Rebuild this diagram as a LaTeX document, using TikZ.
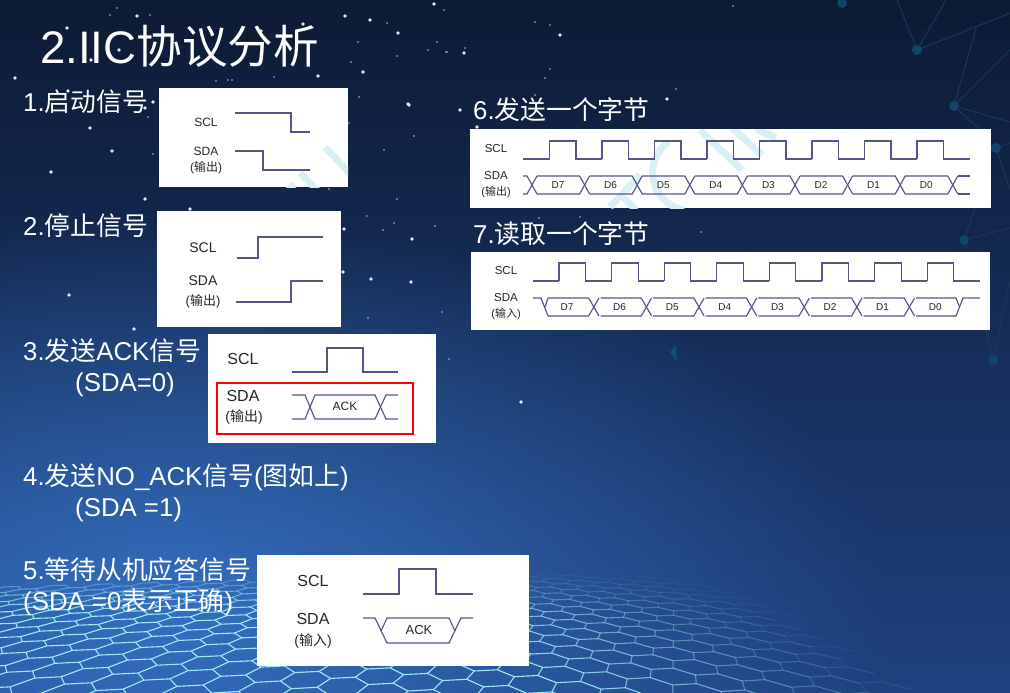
\documentclass[tikz,border=0pt]{standalone}
\usepackage{fontspec}
\setmainfont{Liberation Sans}
\newfontfamily\cjk{Noto Sans CJK SC}
\usetikzlibrary{fadings}

\definecolor{bgtop}{HTML}{0D1A34}
\definecolor{bgmid}{HTML}{162B57}
\definecolor{bgbot}{HTML}{1F417F}
\definecolor{bgglow}{HTML}{3B7BD2}
\definecolor{hexline}{HTML}{9BECF4}
\definecolor{netline}{HTML}{1A3757}
\definecolor{netdot}{HTML}{124468}
\definecolor{wavecol}{HTML}{55558A}
\definecolor{markcol}{HTML}{D9EFF5}
\tikzfading[name=glowfade, inner color=transparent!20, outer color=transparent!100]

\tikzset{
  heading/.style={anchor=base west, text=white, inner sep=0pt, font=\fontsize{25.8}{26}\selectfont},
  sigtext/.style={text=black!85, inner sep=0pt, align=center},
  wave/.style={draw=wavecol, line width=1.15pt, line join=miter},
  panel/.style={fill=white},
  stcmark/.style={draw=markcol, line width=7pt}
}

\begin{document}
\begin{tikzpicture}[x=1pt, y=-1pt,
    declare function={
      gx(\u,\v)=\u*cos(8)-\v*sin(8);
      gz(\u,\v)=\u*sin(8)+\v*cos(8)-60;
      sc(\z)=607/(607+\z);
      px(\u,\v)=430+gx(\u,\v)*sc(gz(\u,\v));
      py(\u,\v)=450+243*sc(gz(\u,\v));
    }]
  \useasboundingbox (0,0) rectangle (1010,693);

  % background
  \shade[top color=bgtop, middle color=bgmid, bottom color=bgbot] (0,0) rectangle (1010,693);
  \begin{scope}
    \clip (0,0) rectangle (1010,693);
    \fill[bgglow, path fading=glowfade] (170,610) ellipse [x radius=720, y radius=400];
    % hexagon floor
    \foreach \i in {-22,...,20} {
      \foreach \j in {-1,...,13} {
        \pgfmathsetmacro\cu{39*\i}
        \pgfmathsetmacro\cv{45*\j+22.5*mod(abs(\i),2)}
        \pgfmathsetmacro\cx{px(\cu,\cv)}
        \pgfmathsetmacro\cy{py(\cu,\cv)}
        \pgfmathsetmacro\op{min(1,max(0,(\cy-572)/45))*min(1,max(0,(765+(\cy-600)*1.77-\cx)/380))}
        \ifdim\op pt>0.02pt
          \draw[hexline, line width=1.1pt, opacity=\op]
            ({px(\cu+26,\cv)},{py(\cu+26,\cv)}) -- ({px(\cu+13,\cv+22.5)},{py(\cu+13,\cv+22.5)})
            -- ({px(\cu-13,\cv+22.5)},{py(\cu-13,\cv+22.5)}) -- ({px(\cu-26,\cv)},{py(\cu-26,\cv)});
        \fi
      }
    }
  \end{scope}

  % network in the right corner
  \foreach \ax/\ay/\bx/\by in {917/50/897/0, 917/50/946/0, 917/50/1010/13, 954/106/976/28,
      954/106/1010/50, 954/106/1010/122, 954/106/980/130, 996/148/1010/143, 996/148/1010/190,
      964/240/975/208, 964/240/1010/228, 964/240/970/255, 993/360/985/320, 993/360/1010/280}
    \draw[netline, line width=1pt] (\ax,\ay) -- (\bx,\by);
  \foreach \ax/\ay in {842/3, 917/50, 954/106, 996/148, 964/240, 993/360}
    \fill[netdot] (\ax,\ay) circle (5);
  \fill[netdot!80!teal] (670,352) -- (676,345) -- (677,362) -- cycle;

  % stars
  \foreach \sx/\sy in {67/28, 137/16, 91/60, 119/50, 15/78, 68/91, 153/102, 145/108, 90/128, 112/151,
      51/172, 145/199, 190/209, 69/295, 134/329, 318/76, 303/24, 261/31, 345/16, 370/20, 398/33,
      363/72, 409/105, 434/4, 344/229, 412/239, 343/272, 371/279, 411/282, 560/35, 464/53, 408/104,
      460/110, 667/99, 477/127, 521/402}
    \fill[white!90!blue] (\sx,\sy) circle (1.9);
  \foreach \sx/\sy in {110/15, 117/8, 150/15, 216/81, 228/80, 232/80, 274/77, 387/23, 358/42, 351/62,
      397/56, 428/50, 437/42, 447/52, 359/97, 349/123, 414/136, 384/150, 153/154, 329/189, 397/199,
      367/216, 383/230, 394/223, 435/226, 368/318, 442/312, 148/117, 444/10, 535/22, 550/25, 465/48,
      446/52, 550/69, 545/78, 535/95, 676/89, 733/6, 449/359, 701/232, 539/218, 580/217}
    \fill[white!70!blue] (\sx,\sy) circle (.9);

  % title and headings
  \node[heading, font=\fontsize{45.6}{46}\selectfont] (title) at (40,64) {2.IIC{\cjk 协议分析}};
  \node[heading] (startlab) at (23,111) {1.{\cjk 启动信号}};
  \node[heading] (stoplab) at (23,235) {2.{\cjk 停止信号}};
  \node[heading] (acklab) at (23,360) {3.{\cjk 发送}ACK{\cjk 信号}};
  \node[heading] (ackval) at (75,391) {(SDA=0)};
  \node[heading] (nacklab) at (23,485) {4.{\cjk 发送}NO\_ACK{\cjk 信号}({\cjk 图如上})};
  \node[heading] (nackval) at (75,516) {(SDA =1)};
  \node[heading] (waitlab) at (23,579) {5.{\cjk 等待从机应答信号}};
  \node[heading] (waitval) at (23,610) {(SDA =0{\cjk 表示正确})};
  \node[heading] (sendlab) at (473,119) {6.{\cjk 发送一个字节}};
  \node[heading] (readlab) at (473,243) {7.{\cjk 读取一个字节}};

  % panel 1
  \fill[panel] (159,88) rectangle (348,187);
  \begin{scope}
    \clip (159,88) rectangle (348,187);
    \draw[stcmark] (325,147) -- (352,176);
    \draw[stcmark] (300,173) -- (322,195);
    \draw[stcmark] (287,192) -- (294,184);
  \end{scope}
  \node[sigtext, font=\fontsize{12}{12}\selectfont] (sclA) at (206,122) {SCL};
  \node[sigtext, font=\fontsize{12}{12}\selectfont] (sdaA) at (206,151) {SDA};
  \node[sigtext, font=\fontsize{12}{12}\selectfont] (dirA) at (206,168) {({\cjk 输出})};
  \draw[wave] (235,113) -- (291,113) -- (291,132) -- (310,132);
  \draw[wave] (235,151) -- (263,151) -- (263,170) -- (310,170);

  % panel 2
  \fill[panel] (157,211) rectangle (341,327);
  \node[sigtext, font=\fontsize{14}{14}\selectfont] (sclB) at (203,248) {SCL};
  \node[sigtext, font=\fontsize{14}{14}\selectfont] (sdaB) at (203,281) {SDA};
  \node[sigtext, font=\fontsize{13}{13}\selectfont] (dirB) at (203,301) {({\cjk 输出})};
  \draw[wave] (237,258) -- (258,258) -- (258,237) -- (323,237);
  \draw[wave] (236,302) -- (291,302) -- (291,281) -- (323,281);

  % panel 3
  \fill[panel] (208,334) rectangle (436,443);
  \draw[red, line width=2.6pt] (217,383) rectangle (413,434);
  \node[sigtext, font=\fontsize{16}{16}\selectfont] (sclC) at (243,359) {SCL};
  \node[sigtext, font=\fontsize{16}{16}\selectfont] (sdaC) at (243,396) {SDA};
  \node[sigtext, font=\fontsize{14}{14}\selectfont] (dirC) at (244,417) {({\cjk 输出})};
  \draw[wave] (292,372) -- (327,372) -- (327,348) -- (363,348) -- (363,372) -- (398,372);
  \draw[wave] (292,395) -- (305,395) -- (315,419) -- (375,419) -- (386,395) -- (398,395);
  \draw[wave] (292,419) -- (305,419) -- (315,395) -- (375,395) -- (386,419) -- (398,419);
  \node[sigtext, font=\fontsize{12}{12}\selectfont] (ackC) at (345,406) {ACK};

  % panel 5
  \fill[panel] (257,555) rectangle (529,666);
  \node[sigtext, font=\fontsize{16}{16}\selectfont] (sclD) at (313,581) {SCL};
  \node[sigtext, font=\fontsize{16}{16}\selectfont] (sdaD) at (313,619) {SDA};
  \node[sigtext, font=\fontsize{14}{14}\selectfont] (dirD) at (313,641) {({\cjk 输入})};
  \draw[wave] (363,594) -- (399,594) -- (399,569) -- (436,569) -- (436,594) -- (473,594);
  \draw[wave] (363,618) -- (375,618) -- (387,643) -- (449,643) -- (461,618) -- (473,618);
  \draw[wave] (381,631) -- (387,618) -- (449,618) -- (455,631);
  \node[sigtext, font=\fontsize{13}{13}\selectfont] (ackD) at (419,630) {ACK};

  % panel 6
  \fill[panel] (470,129) rectangle (991,208);
  \begin{scope}
    \clip (470,129) rectangle (991,208);
    \draw[stcmark] (684,210) arc[start angle=100, end angle=235, radius=38];
    \draw[stcmark] (700,130) -- (742,170);
    \draw[stcmark] (732,128) -- (762,155);
    \draw[stcmark] (756,129) -- (776,138);
    \draw[stcmark] (610,207) -- (640,175);
    \draw[stcmark] (622,196) -- (636,210);
  \end{scope}
  \node[sigtext, font=\fontsize{11.5}{12}\selectfont] (sclE) at (496,149) {SCL};
  \node[sigtext, font=\fontsize{11.5}{12}\selectfont] (sdaE) at (496,176) {SDA};
  \node[sigtext, font=\fontsize{11}{12}\selectfont] (dirE) at (496,192) {({\cjk 输出})};
  \draw[wave] (523,159) -- (549.5,159);
  \foreach \k in {0,...,7}
    \draw[wave] ({549.5+52.5*\k},159) -- ++(0,-18) -- ++(26.5,0) -- ++(0,18) -- ++(26,0);
  \draw[wave] (523,176) -- (527,176) -- (537,194);
  \draw[wave] (523,194) -- (527,194) -- (537,176);
  \foreach \k/\lab in {0/D7,1/D6,2/D5,3/D4,4/D3,5/D2,6/D1,7/D0} {
    \draw[wave] ({537+52.6*\k},176) -- ++(42.6,0) -- ++(10,18);
    \draw[wave] ({537+52.6*\k},194) -- ++(42.6,0) -- ++(10,-18);
    \node[sigtext, font=\fontsize{10}{10}\selectfont] (dataE\k) at ({558+52.6*\k},185) {\lab};
  }
  \draw[wave] (957.5,176) -- (970,176);
  \draw[wave] (957.5,194) -- (970,194);

  % panel 7
  \fill[panel] (471,252) rectangle (990,330);
  \node[sigtext, font=\fontsize{11.5}{12}\selectfont] (sclF) at (506,271) {SCL};
  \node[sigtext, font=\fontsize{11.5}{12}\selectfont] (sdaF) at (506,298) {SDA};
  \node[sigtext, font=\fontsize{11}{12}\selectfont] (dirF) at (506,314) {({\cjk 输入})};
  \draw[wave] (533,281) -- (559,281);
  \foreach \k in {0,...,7}
    \draw[wave] ({559+52.6*\k},281) -- ++(0,-18) -- ++(26.5,0) -- ++(0,18) -- ++(26,0);
  \draw[wave] (533,298) -- (541,298) -- (548,316);
  \draw[wave] (545,307) -- (548,298);
  \foreach \k/\lab in {0/D7,1/D6,2/D5,3/D4,4/D3,5/D2,6/D1,7/D0} {
    \node[sigtext, font=\fontsize{10}{10}\selectfont] (dataF\k) at ({567+52.6*\k},307) {\lab};
  }
  \foreach \k in {0,...,6} {
    \draw[wave] ({548+52.6*\k},298) -- ++(40.6,0) -- ++(10.4,18);
    \draw[wave] ({548+52.6*\k},316) -- ++(40.6,0) -- ++(10.4,-18);
  }
  \draw[wave] (916,298) -- (956,298) -- (959.5,307);
  \draw[wave] (916,316) -- (956,316) -- (963,298) -- (980,298);
\end{tikzpicture}
\end{document}
